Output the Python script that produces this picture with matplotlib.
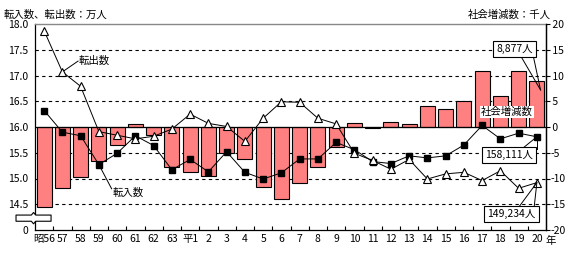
import matplotlib
matplotlib.use('Agg')
import matplotlib.pyplot as plt
from matplotlib.patches import Rectangle

plt.rcParams['font.family'] = ['Noto Sans CJK JP', 'DejaVu Sans']

# ---- data ----
categories = ['昭56', '57', '58', '59', '60', '61', '62', '63', '平1', '2', '3', '4', '5', '6',
              '7', '8', '9', '10', '11', '12', '13', '14', '15', '16', '17', '18', '19', '20']
# 社会増減数 (千人)
social = [-15.6, -11.9, -9.8, -6.6, -3.5, 0.5, -1.6, -7.8, -8.7, -9.6, -5.1, -6.2, -11.7, -13.9,
          -10.9, -7.8, -3.8, 0.7, -0.2, 0.9, 0.5, 4.0, 3.4, 5.1, 10.8, 6.0, 10.8, 8.9]
# 転入数 (万人)
transfer_in = [16.32, 15.90, 15.83, 15.27, 15.49, 15.83, 15.64, 15.17, 15.37, 15.13, 15.52, 15.12,
               14.99, 15.11, 15.38, 15.38, 15.70, 15.56, 15.33, 15.29, 15.44, 15.40, 15.44, 15.65,
               16.03, 15.77, 15.88, 15.81]
# 転出数 (万人)
transfer_out = [17.87, 17.07, 16.79, 15.91, 15.84, 15.77, 15.82, 15.96, 16.25, 16.07, 16.01, 15.72,
                16.17, 16.49, 16.48, 16.17, 16.06, 15.49, 15.35, 15.18, 15.37, 14.99, 15.09, 15.12,
                14.96, 15.15, 14.81, 14.92]
right_ticks = [20, 15, 10, 5, 0, -5, -10, -15, -20]
left_labels = ['18.0', '17.5', '17.0', '16.5', '16.0', '15.5', '15.0', '14.5', '0']
right_labels = [' 20', ' 15', ' 10', ' 5', ' 0', '-5', '-10', '-15', '-20']
base_man = 16.0  # 万人 value at the zero line

x = list(range(len(categories)))
in_y = [(v - base_man) * 10 for v in transfer_in]
out_y = [(v - base_man) * 10 for v in transfer_out]

fig = plt.figure(figsize=(5.8, 2.54), dpi=100)
ax = fig.add_axes([35/580, 24/254, 511/580, 206/254])
ax.set_xlim(-0.5, len(categories) - 0.5)
ax.set_ylim(-20, 20)

for g in [15, 10, 5, -5, -10, -15]:
    ax.axhline(g, color='black', lw=0.8, ls=(0, (3, 3)), zorder=1)

ax.bar(x, social, width=0.82, color='#FF8080', edgecolor='black', linewidth=0.8, zorder=2)
ax.axhline(0, color='black', lw=0.9, zorder=3)

ax.plot(x, in_y, color='black', lw=0.7, marker='s', markersize=4.5,
        markerfacecolor='black', markeredgecolor='black', zorder=4)
ax.plot(x, out_y, color='black', lw=0.7, marker='^', markersize=6.3,
        markerfacecolor='white', markeredgecolor='black', markeredgewidth=0.8, zorder=5)

# axes styling
for s in ['left', 'right', 'bottom']:
    ax.spines[s].set_color('black')
    ax.spines[s].set_linewidth(0.9)
ax.spines['top'].set_color('#888888')
ax.spines['top'].set_linewidth(1.0)

ax.set_yticks(right_ticks)
ax.set_yticklabels(left_labels, fontsize=7.5)
ax.tick_params(axis='y', length=0, pad=5)

ax.set_xticks(x)
ax.set_xticklabels(categories, fontsize=7.5)
ax.set_xticks([i + 0.5 for i in x[:-1]], minor=True)
ax.tick_params(axis='x', which='major', length=0, pad=3)
ax.tick_params(axis='x', which='minor', direction='in', length=3, width=0.8)

ax2 = ax.twinx()
ax2.set_ylim(-20, 20)
ax2.set_yticks(right_ticks)
ax2.set_yticklabels(right_labels, fontsize=7.5)
ax2.tick_params(axis='y', direction='out', length=3, width=0.8, pad=0)
for s in ['left', 'top', 'bottom']:
    ax2.spines[s].set_visible(False)
ax2.spines['right'].set_linewidth(0.9)

# axis break symbol
x0, x1 = -1.54, 0.38
yt, yb = -17.1, -18.3
ax.add_patch(Rectangle((x0, yb), x1 - x0, yt - yb, facecolor='white', edgecolor='none',
                       clip_on=False, zorder=6))
xm = (x0 + x1) / 2
for yy, sgn in [(yt, 1), (yb, -1)]:
    ax.plot([x0, x0, xm - 0.12, xm, xm + 0.12, x1, x1],
            [yy - 0.5 * sgn, yy, yy, yy + 0.5 * sgn, yy, yy, yy - 0.5 * sgn],
            color='black', lw=0.8, clip_on=False, zorder=7)

# series labels with leaders
ax.plot([1, 1.86], [out_y[1], 12.8], color='black', lw=0.7, zorder=4)
ax.text(1.9, 12.8, '転出数', fontsize=7.5, ha='left', va='center', zorder=8)
ax.plot([3, 3.7], [in_y[3], -12.0], color='black', lw=0.7, zorder=4)
ax.text(3.75, -12.8, '転入数', fontsize=7.5, ha='left', va='center', zorder=8)
ax.text(25.36, 2.9, '社会増減数', fontsize=7.5, ha='center', va='center', zorder=8,
        bbox=dict(boxstyle='square,pad=0.1', facecolor='white', edgecolor='none'))

# callouts
box = dict(boxstyle='square,pad=0.3', facecolor='white', edgecolor='black', linewidth=0.8)
def callout(tx, ty, label, base_xs, base_y, tip):
    for bx in base_xs:
        ax.plot([bx, tip[0]], [base_y, tip[1]], color='black', lw=0.7, zorder=8, clip_on=False)
    ax.text(tx, ty, label, fontsize=7.5, ha='center', va='center', zorder=9, bbox=box)

callout(25.77, 15.2, '8,877人', [26.08, 26.79], 14.0, (27.2, 7.2))
callout(25.46, -5.5, '158,111人', [26.2, 27.0], -4.2, (27.0, in_y[27]))
callout(25.6, -16.9, '149,234人', [26.0, 26.85], -15.6, (27.0, out_y[27]))

fig.text(4/580, 1 - 15/254, '転入数、転出数：万人', fontsize=7.5, ha='left', va='center')
fig.text(551/580, 1 - 15/254, '社会増減数：千人', fontsize=7.5, ha='right', va='center')
fig.text(546/580, 1 - 241/254, '年', fontsize=7.5, ha='left', va='center')

fig.savefig('out.png', dpi=100)
